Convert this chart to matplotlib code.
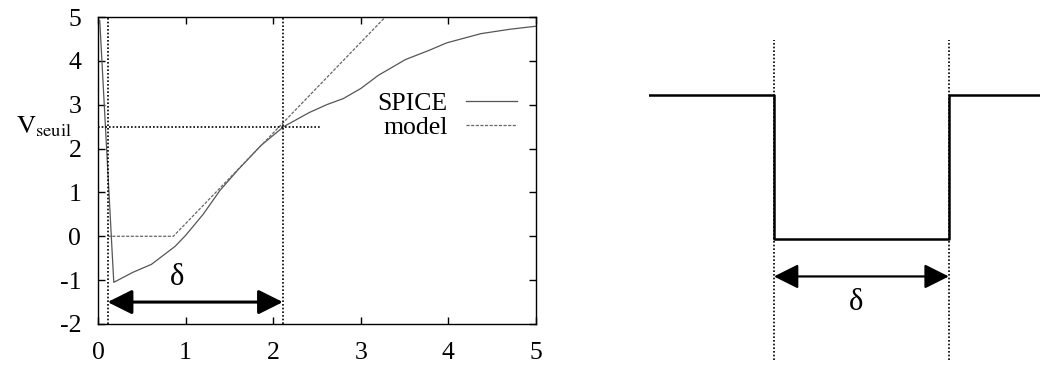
import matplotlib
matplotlib.use("Agg")
import matplotlib.pyplot as plt
import numpy as np

plt.rcParams["font.family"] = ["Liberation Serif", "DejaVu Serif"]
plt.rcParams["mathtext.fontset"] = "stix"
plt.rcParams["axes.unicode_minus"] = False

# SPICE simulation curve
spice_x = [0.02, 0.18, 0.40, 0.61, 0.88, 1.00, 1.20, 1.39, 1.60, 1.86, 2.12,
           2.41, 2.61, 2.80, 3.00, 3.20, 3.51, 3.78, 3.98, 4.37, 4.70, 5.00]
spice_y = [4.92, -1.05, -0.82, -0.64, -0.23, 0.02, 0.50, 1.04, 1.52, 2.07, 2.50,
           2.82, 3.00, 3.14, 3.37, 3.67, 4.03, 4.24, 4.41, 4.62, 4.72, 4.79]

# piecewise model
model_x = [0.11, 0.86, 3.28]
model_y = [0.0, 0.0, 5.0]

# delta markers
t_start = 0.11
t_end = 2.11
v_half = 2.5
v_arrow = -1.5

# ideal pulse on the right
pulse_t = [0.0, 1.0, 1.0, 2.4, 2.4, 3.2]
pulse_v = [1.0, 1.0, 0.0, 0.0, 1.0, 1.0]
pulse_arrow_v = -0.26

dotted = (0, (1, 1.2))
head = "<|-|>,head_length=1.5,head_width=0.75"

fig = plt.figure(figsize=(10.4, 3.65), dpi=100)

ax = fig.add_axes([98 / 1040, 41 / 365, 438 / 1040, 307 / 365])
ax.plot(spice_x, spice_y, color="#555555", lw=0.9, label="SPICE")
ax.plot(model_x, model_y, color="#666666", lw=0.9, dashes=(2.5, 1.2), label="model")
ax.axvline(t_start, color="black", lw=1.2, ls=dotted)
ax.axvline(t_end, color="black", lw=1.2, ls=dotted)
ax.plot([0, 2.55], [v_half, v_half], color="black", lw=1.2, ls=dotted)
ax.annotate("", xy=(t_end, v_arrow), xytext=(t_start, v_arrow),
            arrowprops=dict(arrowstyle=head, color="black", lw=2.2,
                            shrinkA=0, shrinkB=0))
ax.text(0.9, -0.95, "δ", fontsize=22, ha="center", va="center")

ax.set_xlim(0, 5)
ax.set_ylim(-2, 5)
ax.set_xticks(range(0, 6))
ax.set_yticks(range(-2, 6))
ax.tick_params(direction="in", length=5, width=1, top=True, right=True,
               labelsize=18.5)
ax.tick_params(axis="x", pad=13)
ax.tick_params(axis="y", pad=12)
for s in ax.spines.values():
    s.set_linewidth(1.0)
ax.text(-0.3, v_half, r"$\mathrm{V}_{\mathrm{seuil}}$", fontsize=19,
        ha="right", va="center")

leg = ax.legend(loc="upper right", bbox_to_anchor=(0.957, 0.755), frameon=False,
                markerfirst=False, fontsize=18.5, handlelength=2.0,
                handletextpad=0.7, labelspacing=0.05, borderpad=0,
                borderaxespad=0)

ax2 = fig.add_axes([649 / 1040, 0, 391 / 1040, 1])
ax2.plot(pulse_t, pulse_v, color="black", lw=1.8)
for t in (1.0, 2.4):
    ax2.plot([t, t], [-0.84, 1.38], color="black", lw=1.2, ls=dotted)
ax2.annotate("", xy=(2.4, pulse_arrow_v), xytext=(1.0, pulse_arrow_v),
             arrowprops=dict(arrowstyle=head, color="black", lw=1.6,
                             shrinkA=0, shrinkB=0))
ax2.text(1.66, -0.44, "δ", fontsize=22, ha="center", va="center")
ax2.set_xlim(0, 3.13)
ax2.set_ylim(-0.875, 1.66)
ax2.axis("off")

fig.savefig("out.png", dpi=100)
